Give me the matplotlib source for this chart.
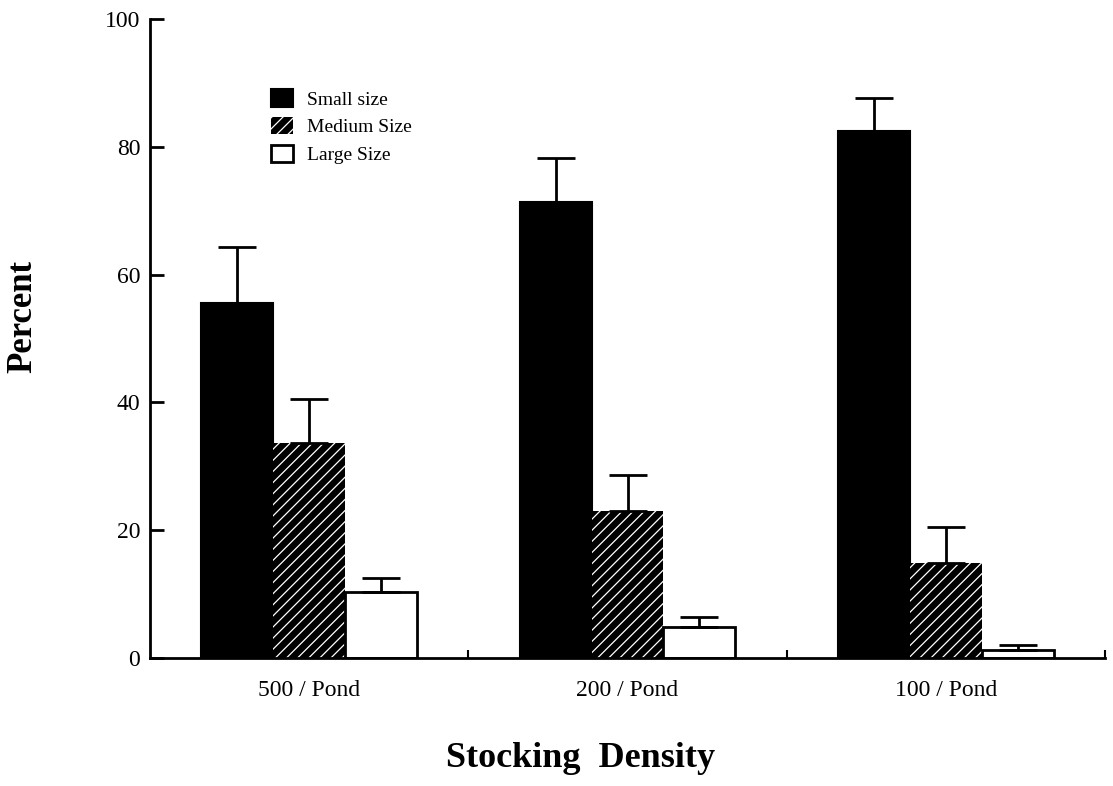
import numpy as np
import matplotlib
matplotlib.use("Agg")
import matplotlib.pyplot as plt

plt.rcParams['font.family'] = ['Liberation Serif', 'DejaVu Serif']
plt.rcParams['hatch.linewidth'] = 0.9

groups = ['500 / Pond', '200 / Pond', '100 / Pond']
series = ['Small size', 'Medium Size', 'Large Size']
small = [55.5, 71.3, 82.4]
medium = [33.7, 23.0, 14.9]
large = [10.4, 4.9, 1.3]
small_err = [8.8, 6.9, 5.2]
medium_err = [6.8, 5.7, 5.6]
large_err = [2.2, 1.6, 0.7]

fig = plt.figure(figsize=(11.13, 7.86), dpi=100)
ax = fig.add_axes([0.1348, 0.1628, 0.858, 0.813])

x = np.arange(len(groups))
w = 0.226
styles = [
    dict(color='black', edgecolor='black', linewidth=1.5),
    dict(color='black', edgecolor='white', hatch='///', linewidth=0),
    dict(color='white', edgecolor='black', linewidth=2),
]
vals = [small, medium, large]
errs = [small_err, medium_err, large_err]

for i in range(3):
    pos = x + (i - 1) * w
    ax.bar(pos, vals[i], w, label=series[i], zorder=2, **styles[i])
    ax.errorbar(pos, vals[i], yerr=[np.zeros(3), errs[i]], fmt='none',
                ecolor='black', elinewidth=2, capsize=14, capthick=2, zorder=3)

ax.set_xlim(-0.5, 2.5)
ax.set_ylim(0, 100)
ax.set_yticks([0, 20, 40, 60, 80, 100])
ax.set_xticks(x)
ax.set_xticklabels(groups)
ax.set_xticks([0.5, 1.5, 2.5], minor=True)
ax.tick_params(axis='x', which='major', length=0, pad=16, labelsize=17)
ax.tick_params(axis='x', which='minor', direction='in', length=6, width=1.5)
ax.tick_params(axis='y', direction='in', length=10, width=2, pad=7, labelsize=17)

for s in ['top', 'right']:
    ax.spines[s].set_visible(False)
for s in ['left', 'bottom']:
    ax.spines[s].set_linewidth(2)

ax.set_xlabel('Stocking  Density', fontsize=26, fontweight='bold', va='top')
ax.xaxis.set_label_coords(0.451, -0.132)
ax.set_ylabel('Percent', fontsize=25, fontweight='bold')
ax.yaxis.set_label_coords(-0.116, 0.534)

ax.legend(loc='upper left', bbox_to_anchor=(0.117, 0.905), frameon=False,
          fontsize=14, handlelength=1.1, handleheight=1.0, handletextpad=0.75,
          labelspacing=0.42, borderpad=0)

fig.savefig('out.png', dpi=100)
